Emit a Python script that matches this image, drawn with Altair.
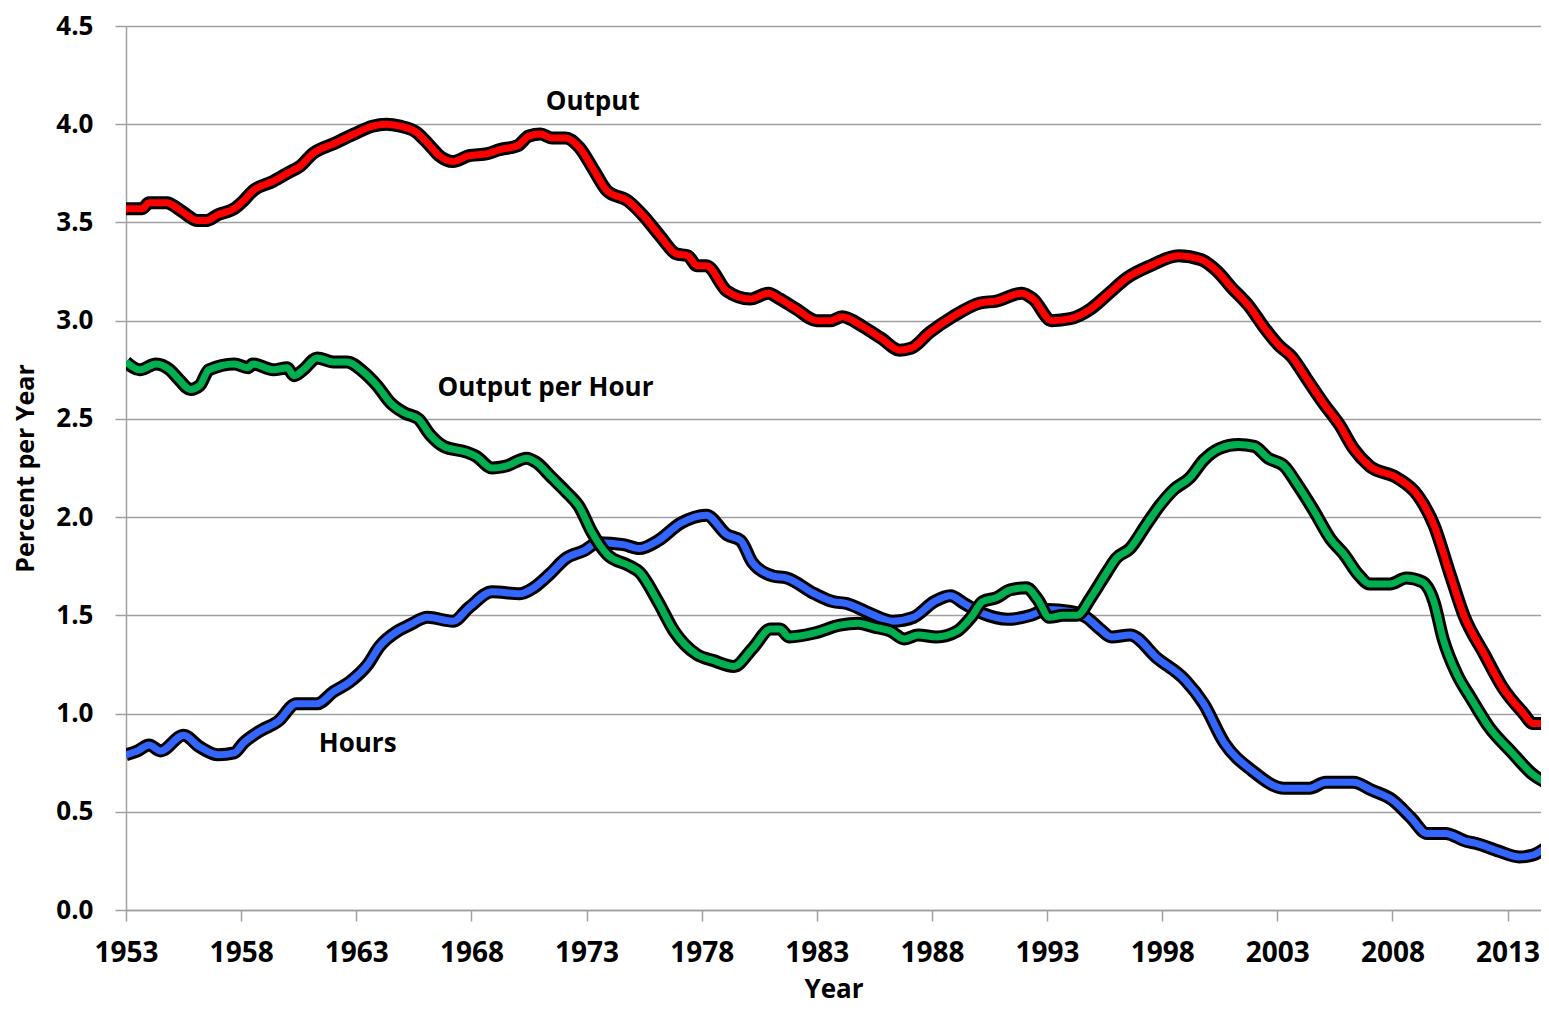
import altair as alt
import pandas as pd

# ---- data ----
output_years = [1953.0, 1953.7, 1954.0, 1954.8, 1955.0, 1955.5, 1956.1, 1956.5, 1957.0, 1957.7,
                1958.1, 1958.5, 1959.4, 1960.0, 1960.6, 1961.1, 1962.0, 1962.9, 1963.7, 1964.3,
                1964.9, 1965.6, 1966.2, 1966.6, 1967.2, 1967.9, 1968.7, 1969.2, 1970.0, 1970.5,
                1971.0, 1971.5, 1972.1, 1972.7, 1973.3, 1973.9, 1974.8, 1975.5, 1976.2, 1976.9,
                1977.4, 1977.8, 1978.2, 1979.1, 1980.1, 1980.9, 1981.4, 1982.1, 1983.0, 1983.6,
                1984.1, 1985.0, 1985.8, 1986.6, 1987.1, 1987.9, 1988.9, 1990.1, 1990.8, 1991.9,
                1992.4, 1993.2, 1994.0, 1994.9, 1995.6, 1996.5, 1997.5, 1998.7, 1999.7, 2000.4,
                2001.0, 2001.8, 2002.4, 2003.1, 2003.6, 2004.3, 2005.0, 2005.7, 2006.3, 2007.0,
                2008.2, 2009.1, 2009.8, 2010.5, 2011.1, 2012.0, 2012.8, 2013.7, 2014.1, 2014.8]
output_values = [3.57, 3.57, 3.60, 3.60, 3.59, 3.55, 3.51, 3.51, 3.54, 3.57,
                 3.61, 3.66, 3.71, 3.75, 3.79, 3.85, 3.90, 3.95, 3.99, 4.00,
                 3.99, 3.96, 3.89, 3.84, 3.81, 3.84, 3.85, 3.87, 3.89, 3.94,
                 3.95, 3.93, 3.93, 3.88, 3.77, 3.66, 3.61, 3.53, 3.43, 3.34,
                 3.33, 3.28, 3.28, 3.15, 3.11, 3.14, 3.11, 3.06, 3.00, 3.00,
                 3.02, 2.97, 2.91, 2.85, 2.86, 2.94, 3.02, 3.09, 3.10, 3.14,
                 3.11, 3.00, 3.01, 3.06, 3.13, 3.22, 3.28, 3.33, 3.31, 3.25,
                 3.17, 3.07, 2.97, 2.87, 2.82, 2.70, 2.58, 2.47, 2.35, 2.26,
                 2.20, 2.11, 1.96, 1.71, 1.50, 1.30, 1.13, 1.00, 0.95, 0.95]

oph_years = [1953.0, 1953.6, 1954.3, 1954.9, 1955.3, 1955.8, 1956.2, 1956.6, 1957.7, 1958.3,
             1958.5, 1959.4, 1960.0, 1960.3, 1960.7, 1961.3, 1962.0, 1962.6, 1963.3, 1963.9,
             1964.5, 1965.1, 1965.7, 1966.2, 1966.8, 1967.8, 1968.2, 1968.9, 1969.5, 1970.4,
             1970.8, 1971.5, 1972.1, 1972.7, 1973.2, 1973.9, 1974.9, 1975.3, 1976.1, 1976.8,
             1977.8, 1978.5, 1979.4, 1980.2, 1981.0, 1981.4, 1981.8, 1982.9, 1984.0, 1984.8,
             1985.5, 1986.2, 1986.8, 1987.4, 1988.2, 1989.1, 1989.7, 1990.2, 1990.8, 1991.4,
             1992.1, 1992.6, 1993.1, 1993.7, 1994.3, 1994.9, 1995.6, 1996.0, 1996.6, 1997.3,
             1997.9, 1998.5, 1999.2, 1999.8, 2000.5, 2001.3, 2002.0, 2002.6, 2003.3, 2003.9,
             2004.6, 2005.3, 2005.9, 2006.5, 2007.0, 2007.9, 2008.6, 2009.3, 2009.8, 2010.2,
             2010.8, 2011.4, 2012.2, 2013.2, 2014.1, 2014.8]
oph_values = [2.79, 2.75, 2.78, 2.75, 2.70, 2.65, 2.67, 2.75, 2.78, 2.76,
              2.78, 2.75, 2.76, 2.72, 2.75, 2.81, 2.79, 2.79, 2.74, 2.67,
              2.58, 2.53, 2.50, 2.42, 2.36, 2.33, 2.31, 2.25, 2.26, 2.30,
              2.28, 2.20, 2.13, 2.05, 1.93, 1.81, 1.75, 1.72, 1.57, 1.42,
              1.30, 1.27, 1.24, 1.33, 1.43, 1.43, 1.39, 1.41, 1.45, 1.46,
              1.44, 1.42, 1.38, 1.40, 1.39, 1.42, 1.49, 1.57, 1.59, 1.63,
              1.64, 1.58, 1.49, 1.50, 1.50, 1.59, 1.72, 1.79, 1.84, 1.96,
              2.06, 2.14, 2.20, 2.29, 2.35, 2.37, 2.36, 2.30, 2.26, 2.16,
              2.03, 1.89, 1.81, 1.71, 1.66, 1.66, 1.69, 1.67, 1.57, 1.38,
              1.20, 1.08, 0.93, 0.80, 0.69, 0.64]

hours_years = [1953.0, 1953.5, 1954.0, 1954.5, 1955.5, 1956.2, 1957.0, 1957.7, 1958.1, 1958.8,
               1959.6, 1960.4, 1961.3, 1962.0, 1962.7, 1963.5, 1964.0, 1964.8, 1965.3, 1966.1,
               1967.2, 1967.9, 1968.9, 1970.1, 1970.7, 1971.4, 1972.1, 1972.9, 1973.5, 1974.6,
               1975.3, 1976.1, 1977.1, 1978.2, 1979.1, 1979.7, 1980.2, 1981.1, 1981.7, 1982.9,
               1983.7, 1984.3, 1985.3, 1986.3, 1987.2, 1988.1, 1988.8, 1989.4, 1990.2, 1991.3,
               1992.3, 1993.0, 1994.0, 1994.7, 1995.3, 1995.8, 1996.6, 1997.8, 1999.0, 1999.8,
               2000.7, 2001.9, 2003.3, 2004.4, 2005.1, 2006.3, 2007.1, 2008.0, 2008.8, 2009.5,
               2010.3, 2011.2, 2011.6, 2012.6, 2013.5, 2014.1, 2014.7]
hours_values = [0.79, 0.81, 0.84, 0.81, 0.89, 0.83, 0.79, 0.80, 0.85, 0.91,
                0.96, 1.05, 1.05, 1.11, 1.16, 1.25, 1.34, 1.42, 1.45, 1.49,
                1.47, 1.54, 1.62, 1.61, 1.64, 1.71, 1.79, 1.83, 1.87, 1.86,
                1.84, 1.88, 1.97, 2.01, 1.91, 1.88, 1.77, 1.70, 1.69, 1.61,
                1.57, 1.56, 1.51, 1.47, 1.49, 1.57, 1.60, 1.56, 1.51, 1.48,
                1.50, 1.53, 1.52, 1.49, 1.43, 1.39, 1.40, 1.28, 1.17, 1.05,
                0.85, 0.71, 0.62, 0.62, 0.65, 0.65, 0.61, 0.56, 0.47, 0.39,
                0.39, 0.35, 0.34, 0.30, 0.27, 0.28, 0.32]

series_names = ["Hours", "Output per Hour", "Output"]
series_colors = ["#3366FF", "#00B050", "#FF0000"]

label_texts = ["Output", "Output per Hour", "Hours"]
label_years = [1973.27, 1971.22, 1963.06]
label_values = [4.07, 2.615, 0.806]

x_ticks = [1953, 1958, 1963, 1968, 1973, 1978, 1983, 1988, 1993, 1998, 2003, 2008, 2013]
y_ticks = [0.0, 0.5, 1.0, 1.5, 2.0, 2.5, 3.0, 3.5, 4.0, 4.5]

# ---- build table ----
frames = []
for name, yrs, vals in [("Hours", hours_years, hours_values),
                        ("Output per Hour", oph_years, oph_values),
                        ("Output", output_years, output_values)]:
    frames.append(pd.DataFrame({"year": yrs, "value": vals, "series": name}))
df = pd.concat(frames, ignore_index=True)
labels_df = pd.DataFrame({"text": label_texts, "year": label_years, "value": label_values})

FONT = "Open Sans"
GRAY = "#A0A0A0"
PLOT_H = 884

x_enc = alt.X("year:Q",
              scale=alt.Scale(domain=[1953, 2014.45], nice=False, zero=False),
              axis=alt.Axis(values=x_ticks, format="d", grid=False, tickSize=11,
                            tickColor=GRAY, tickWidth=1.5, domainColor=GRAY, domainWidth=1.5,
                            labelFont=FONT, labelFontWeight="bold", labelFontSize=28,
                            labelColor="black", labelPadding=18, labelFlush=False,
                            labelOverlap=False,
                            title="Year", titleFont=FONT, titleFontWeight="bold",
                            titleFontSize=26, titleColor="black", titleY=87,
                            titleBaseline="alphabetic"))
y_enc = alt.Y("value:Q",
              scale=alt.Scale(domain=[0, 4.5], nice=False, zero=True),
              axis=alt.Axis(values=y_ticks, format=".1f", grid=True, gridColor=GRAY,
                            gridWidth=1.5, tickSize=11, tickColor=GRAY, tickWidth=1.5,
                            domainColor=GRAY, domainWidth=1.5,
                            labelFont=FONT, labelFontWeight="bold", labelFontSize=26,
                            labelColor="black", labelPadding=22, labelOverlap=False,
                            labelFlush=False,
                            title="Percent per Year", titleFont=FONT, titleFontWeight="bold",
                            titleFontSize=25, titleColor="black", titleAngle=270,
                            titleX=-101, titleY=PLOT_H / 2, titleAlign="center",
                            titleBaseline="middle"))

base = alt.Chart(df).encode(x=x_enc, y=y_enc)

layers = []
for name, col in zip(series_names, series_colors):
    sub = base.transform_filter(alt.datum.series == name)
    layers.append(sub.mark_line(color="black", strokeWidth=13, strokeJoin="round",
                                strokeCap="butt", interpolate="monotone", clip=True))
    layers.append(sub.mark_line(color=col, strokeWidth=7, strokeJoin="round",
                                strokeCap="butt", interpolate="monotone", clip=True))

text = alt.Chart(labels_df).mark_text(font=FONT, fontWeight="bold", fontSize=26,
                                      color="black", align="center",
                                      baseline="alphabetic").encode(
    x=alt.X("year:Q"), y=alt.Y("value:Q"), text="text:N")

chart = alt.layer(*layers, text).properties(
    width=1415, height=PLOT_H,
    autosize=alt.AutoSizeParams(type="none"),
    padding={"left": 118, "top": 18, "right": 0, "bottom": 96},
    background="white",
).configure_view(stroke=None)

chart.save("out.html", embed_options={"renderer": "svg", "actions": False})
